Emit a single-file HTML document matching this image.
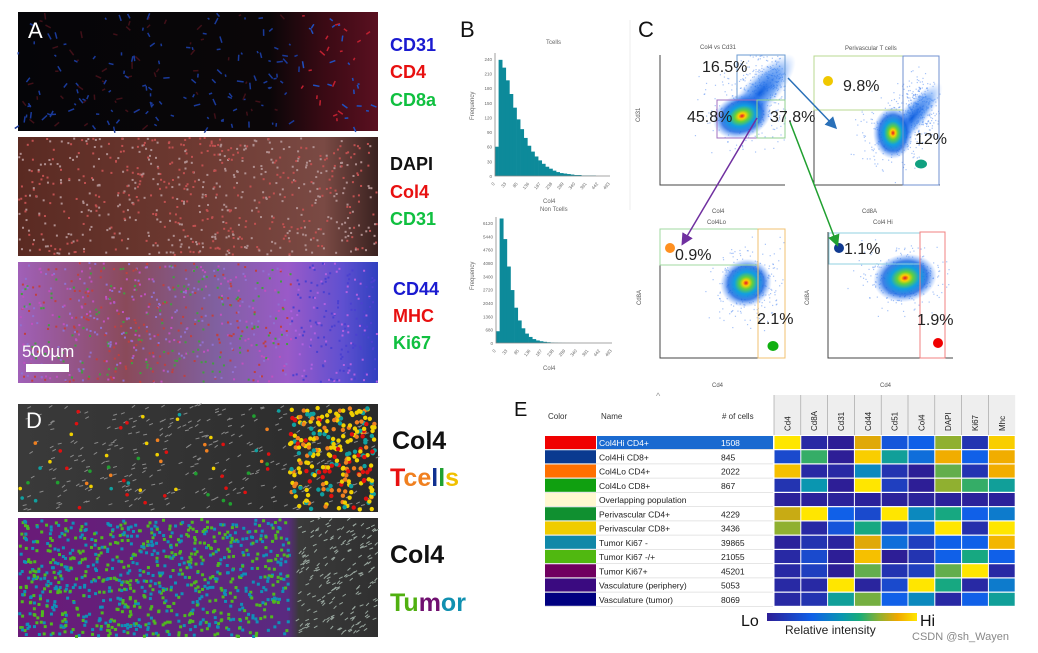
<!DOCTYPE html>
<html><head><meta charset="utf-8">
<style>
html,body{margin:0;padding:0;background:#fff;}
svg{display:block;font-family:"Liberation Sans",sans-serif;}
</style></head>
<body>
<svg id="fig" width="1038" height="653" viewBox="0 0 1038 653">
<defs>
  <linearGradient id="gA1" x1="0" x2="1"><stop offset="0" stop-color="#050508"/><stop offset="0.7" stop-color="#0a0608"/><stop offset="0.85" stop-color="#3a0a14"/><stop offset="1" stop-color="#5a1020"/></linearGradient>
  <linearGradient id="gA2" x1="0" x2="1"><stop offset="0" stop-color="#5a2a22"/><stop offset="0.5" stop-color="#6e3a32"/><stop offset="0.85" stop-color="#7a4a44"/><stop offset="1" stop-color="#3a2220"/></linearGradient>
  <linearGradient id="gA3" x1="0" x2="1"><stop offset="0" stop-color="#a060b8"/><stop offset="0.3" stop-color="#8a4a5a"/><stop offset="0.55" stop-color="#8060a0"/><stop offset="0.75" stop-color="#9a5ac8"/><stop offset="0.9" stop-color="#6050d0"/><stop offset="1" stop-color="#3040c0"/></linearGradient>
  <linearGradient id="gD1" x1="0" x2="1"><stop offset="0" stop-color="#3a3a3a"/><stop offset="1" stop-color="#2a2a2a"/></linearGradient>
  <linearGradient id="gD2" x1="0" x2="1"><stop offset="0" stop-color="#6a1a78"/><stop offset="0.75" stop-color="#5a2a80"/><stop offset="0.78" stop-color="#3a3a3a"/><stop offset="1" stop-color="#303030"/></linearGradient>
  <linearGradient id="gbar" x1="0" x2="1"><stop offset="0" stop-color="#2d1e96"/><stop offset="0.3" stop-color="#1060e8"/><stop offset="0.5" stop-color="#0a96b0"/><stop offset="0.62" stop-color="#1aac78"/><stop offset="0.75" stop-color="#90b030"/><stop offset="0.87" stop-color="#f0a800"/><stop offset="1" stop-color="#ffe600"/></linearGradient>
  <radialGradient id="dens"><stop offset="0" stop-color="#e0102a"/><stop offset="0.12" stop-color="#ffd000"/><stop offset="0.25" stop-color="#60d040"/><stop offset="0.45" stop-color="#10a0e0"/><stop offset="0.7" stop-color="#1060e0" stop-opacity="0.8"/><stop offset="1" stop-color="#5090ff" stop-opacity="0"/></radialGradient>
  <radialGradient id="halo"><stop offset="0" stop-color="#1060e0"/><stop offset="0.6" stop-color="#2a7af0" stop-opacity="0.6"/><stop offset="1" stop-color="#80b0ff" stop-opacity="0"/></radialGradient>
  <marker id="ab" markerWidth="8" markerHeight="8" refX="6" refY="4" orient="auto"><path d="M0,0 L8,4 L0,8 z" fill="#2a70b8"/></marker>
  <marker id="ap" markerWidth="8" markerHeight="8" refX="6" refY="4" orient="auto"><path d="M0,0 L8,4 L0,8 z" fill="#7030a0"/></marker>
  <marker id="ag" markerWidth="8" markerHeight="8" refX="6" refY="4" orient="auto"><path d="M0,0 L8,4 L0,8 z" fill="#20a030"/></marker>
</defs>

<g>
  <rect x="18" y="12" width="360" height="119" fill="url(#gA1)"/>
  <rect x="18" y="137" width="360" height="119" fill="url(#gA2)"/>
  <rect x="18" y="262" width="360" height="121" fill="url(#gA3)"/>
  <g id="specks"></g>
  <text x="28" y="38" font-size="22" fill="#fff">A</text>
  <text x="22" y="357" font-size="17" fill="#fff">500µm</text>
  <rect x="26" y="364" width="43" height="8" fill="#fff"/>
  <g font-size="18" font-weight="bold">
    <text x="390" y="51" fill="#1a1ad0">CD31</text>
    <text x="390" y="78" fill="#e81010">CD4</text>
    <text x="390" y="106" fill="#10c040">CD8a</text>
    <text x="390" y="170" fill="#111">DAPI</text>
    <text x="390" y="198" fill="#e81010">Col4</text>
    <text x="390" y="225" fill="#10c040">CD31</text>
    <text x="393" y="295" fill="#1a1ad0">CD44</text>
    <text x="393" y="322" fill="#e81010">MHC</text>
    <text x="393" y="349" fill="#10c040">Ki67</text>
  </g>
</g>

<g>
  <rect x="18" y="404" width="360" height="108" fill="url(#gD1)"/>
  <rect x="18" y="518" width="360" height="119" fill="url(#gD2)"/>
  <g id="dots"></g>
  <text x="26" y="428" font-size="22" fill="#fff">D</text>
  <g font-size="25" font-weight="bold">
    <text x="392" y="449" fill="#111">Col4</text>
    <text x="390" y="486"><tspan fill="#e81010">T</tspan><tspan fill="#f08020">c</tspan><tspan fill="#f08020">e</tspan><tspan fill="#103090">l</tspan><tspan fill="#20a030">l</tspan><tspan fill="#f0c000">s</tspan></text>
    <text x="390" y="563" fill="#111">Col4</text>
    <text x="390" y="611"><tspan fill="#50b010">Tu</tspan><tspan fill="#701070">m</tspan><tspan fill="#1090b0">or</tspan></text>
  </g>
</g>

<g id="panelB">
  <text x="460" y="37" font-size="22" fill="#111">B</text>
  <text x="546" y="44" font-size="6" fill="#666">Tcells</text>
  <text x="540" y="211" font-size="6" fill="#666">Non Tcells</text>
  <text x="543" y="203" font-size="6" fill="#666">Col4</text>
  <text x="543" y="370" font-size="6" fill="#666">Col4</text>
  <text x="474" y="120" font-size="6" fill="#666" transform="rotate(-90 474 120)">Frequency</text>
  <text x="474" y="290" font-size="6" fill="#666" transform="rotate(-90 474 290)">Frequency</text>
</g>

<g id="panelC">
  <text x="638" y="37" font-size="22" fill="#111">C</text>
  <line x1="630" y1="20" x2="630" y2="210" stroke="#eee"/>
  <text x="700" y="49" font-size="6" fill="#555">Col4 vs Cd31</text>
  <text x="845" y="50" font-size="6" fill="#555">Perivascular T cells</text>
  <text x="707" y="224" font-size="6" fill="#555">Col4Lo</text>
  <text x="873" y="224" font-size="6" fill="#555">Col4 Hi</text>
  <text x="712" y="213" font-size="6" fill="#555">Col4</text>
  <text x="862" y="213" font-size="6" fill="#555">Cd8A</text>
  <text x="712" y="387" font-size="6" fill="#555">Cd4</text>
  <text x="880" y="387" font-size="6" fill="#555">Cd4</text>
  <text x="640" y="122" font-size="6" fill="#555" transform="rotate(-90 640 122)">Cd31</text>
  <text x="641" y="305" font-size="6" fill="#555" transform="rotate(-90 641 305)">Cd8A</text>
  <text x="809" y="305" font-size="6" fill="#555" transform="rotate(-90 809 305)">Cd8A</text>
  <g id="plots"></g>
</g>

<g id="panelE">
  <text x="514" y="416" font-size="20" fill="#111">E</text>
  <text x="548" y="419" font-size="8" fill="#333">Color</text>
  <text x="601" y="419" font-size="8" fill="#333">Name</text>
  <text x="656" y="399" font-size="9" fill="#999">^</text>
  <text x="722" y="419" font-size="8" fill="#333">#  of cells</text>
  <g id="table"></g>
  <text x="741" y="626" font-size="16" fill="#111">Lo</text>
  <rect x="767" y="613" width="150" height="8" fill="url(#gbar)"/>
  <text x="920" y="626" font-size="16" fill="#111">Hi</text>
  <text x="785" y="634" font-size="12" fill="#222">Relative intensity</text>
  <text x="912" y="640" font-size="11" fill="#888">CSDN @sh_Wayen</text>
</g>
</svg>

<script>
const hist1Counts = [60,238,222,196,168,140,116,96,78,62,50,40,32,25,19,15,11,8,6,5,4,3,2,2,1,1,1,1,0,0,0,0];
const hist1Ticks = [0,30,60,90,120,150,180,210,240];
const hist2Counts = [600,6350,5300,3900,2700,1800,1150,750,480,310,200,130,90,60,40,25,16,10,6,4,3,2,1,1,0,0,0,0,0,0,0,0];
const hist2Ticks = [0,680,1360,2040,2720,3400,4080,4760,5440,6120];
const histXTicks = ["0","33","85","136","187","238","289","340","391","442","493"];

const markers = ["Cd4","Cd8A","Cd31","Cd44","Cd51","Col4","DAPI","Ki67","Mhc"];
const popNames = ["Col4Hi CD4+","Col4Hi CD8+","Col4Lo CD4+","Col4Lo CD8+","Overlapping population","Perivascular CD4+","Perivascular CD8+","Tumor Ki67 -","Tumor Ki67 -/+","Tumor Ki67+","Vasculature (periphery)","Vasculature (tumor)"];
const popCounts = ["1508","845","2022","867","","4229","3436","39865","21055","45201","5053","8069"];
const popColors = ["#f00000","#0a3a90","#ff7000","#10a010","#fff8d0","#109030","#f0cc00","#1088a8","#50b810","#700060","#3a0a80","#000080"];
const heatRows = [
 [1.0,0.05,0.0,0.85,0.25,0.3,0.75,0.1,0.95],
 [0.2,0.65,0.0,0.95,0.55,0.35,0.88,0.3,0.88],
 [0.92,0.05,0.05,0.45,0.1,0.0,0.7,0.1,0.88],
 [0.1,0.5,0.0,1.0,0.15,0.0,0.75,0.65,0.55],
 [0.02,0.02,0.02,0.02,0.02,0.02,0.02,0.02,0.02],
 [0.82,1.0,0.3,0.2,1.0,0.45,0.6,0.3,0.4],
 [0.75,0.05,0.25,0.6,0.2,0.35,1.0,0.08,1.0],
 [0.02,0.1,0.03,0.85,0.35,0.15,0.3,0.3,0.9],
 [0.05,0.2,0.0,0.92,0.0,0.1,0.3,0.6,0.3],
 [0.05,0.15,0.0,0.7,0.1,0.15,0.7,1.0,0.05],
 [0.05,0.05,1.0,0.03,0.2,1.0,0.6,0.05,0.4],
 [0.05,0.1,0.55,0.72,0.3,0.45,0.05,0.3,0.55]
];

const gateLabels = ["16.5%","45.8%","37.8%","9.8%","12%","0.9%","2.1%","1.1%","1.9%"];

const NS = "http://www.w3.org/2000/svg";
function mk(tag, attrs, parent){const e=document.createElementNS(NS,tag);for(const k in attrs)e.setAttribute(k,attrs[k]);parent.appendChild(e);return e;}

const stops=[[0,[45,30,150]],[0.3,[16,96,232]],[0.5,[10,150,176]],[0.62,[26,172,120]],[0.75,[144,176,48]],[0.87,[240,168,0]],[1,[255,230,0]]];
function cmap(v){v=Math.max(0,Math.min(1,v));for(let i=1;i<stops.length;i++){if(v<=stops[i][0]){const a=stops[i-1],b=stops[i];const t=(v-a[0])/(b[0]-a[0]);const c=a[1].map((x,j)=>Math.round(x+(b[1][j]-x)*t));return `rgb(${c[0]},${c[1]},${c[2]})`;}}return "rgb(255,230,0)";}

function drawHist(g, counts, ticks, x0, x1, y0, y1, name){
  const ymax = ticks[ticks.length-1]*1.05;
  const ys = v => y1 - v/ymax*(y1-y0);
  const bw = (x1-x0)/counts.length;
  counts.forEach((c,i)=>{
    const r=mk('rect',{x:x0+i*bw,y:ys(c),width:bw+0.3,height:y1-ys(c),fill:'#0d8a9a'},g);
    
    
  });
  const ax=mk('path',{d:`M${x0},${y0} V${y1} H${x1}`,stroke:'#888','stroke-width':0.8,fill:'none'},g);
  
  
  ticks.forEach(t=>{
    const tx=mk('text',{x:x0-3,y:ys(t)+2,'font-size':4.5,fill:'#666','text-anchor':'end'},g);
    tx.textContent=t;
    
    
  });
  histXTicks.forEach((t,i)=>{
    const x=x0+i*(x1-x0)/(histXTicks.length-1);
    const tx=mk('text',{x:x,y:y1+8,'font-size':4.5,fill:'#666',transform:`rotate(-50 ${x} ${y1+8})`,'text-anchor':'end'},g);
    tx.textContent=t;
    
    
  });
}
const gB=document.getElementById('panelB');
drawHist(gB,hist1Counts,hist1Ticks,495,610,53,176,'hist-tcells');
drawHist(gB,hist2Counts,hist2Ticks,496,612,217,343,'hist-nontcells');

let seed=7; function rnd(){seed=(seed*16807)%2147483647;return seed/2147483647;}
function gauss(){return (rnd()+rnd()+rnd()+rnd()-2)/0.58;}

const gP=document.getElementById('plots');
const plotBoxes=[[660,55,785,185],[814,56,940,185],[660,230,785,358],[828,232,953,358]];
plotBoxes.forEach((b,i)=>{
  const p=mk('path',{d:`M${b[0]},${b[1]} V${b[3]} H${b[2]}`,stroke:'#444','stroke-width':1,fill:'none'},gP);
  
  
});
// light event speckle clouds
const clouds=[[752,105,22,20,plotBoxes[0]],[770,80,14,14,plotBoxes[0]],[895,130,18,20,plotBoxes[1]],[920,105,10,14,plotBoxes[1]],[748,285,18,18,plotBoxes[2]],[905,278,22,16,plotBoxes[3]]];
clouds.forEach(c=>{
  for(let i=0;i<260;i++){
    const x=c[0]+gauss()*c[2],y=c[1]+gauss()*c[3];
    if(x<c[4][0]||x>c[4][2]||y<c[4][1]||y>c[4][3])continue;
    mk('rect',{x:x,y:y,width:1.2,height:1.2,fill:'#3a7af0','fill-opacity':0.45},gP);
  }
});
function blob(cx,cy,rx,ry,rot,fill,name){
  const e=mk('ellipse',{cx:cx,cy:cy,rx:rx,ry:ry,fill:fill,transform:`rotate(${rot} ${cx} ${cy})`},gP);
  
  
}
blob(760,93,50,17,-48,'url(#halo)','density-plot1-tail');
blob(742,116,30,22,-20,'url(#dens)','density-plot1-core');
blob(912,118,45,13,-50,'url(#halo)','density-plot2-tail');
blob(893,133,20,26,0,'url(#dens)','density-plot2-core');
blob(746,283,26,24,-20,'url(#dens)','density-plot3-core');
blob(905,278,32,24,-10,'url(#dens)','density-plot4-core');
const gates=[[737,55,48,45,'#6a9ad0'],[717,100,40,38,'#a070c0'],[757,100,28,38,'#90d090'],
 [814,56,89,54,'#b8d890'],[903,56,36,129,'#7090d0'],
 [660,229,98,36,'#a0d8a0'],[758,229,27,129,'#f0c070'],
 [829,233,91,31,'#90d0e0'],[920,232,25,126,'#f08080']];
gates.forEach(g=>{
  const r=mk('rect',{x:g[0],y:g[1],width:g[2],height:g[3],fill:'none',stroke:g[4],'stroke-width':1},gP);
  
  
});
const labPos=[[702,72],[687,122],[770,122],[843,91],[915,144],[675,260],[757,324],[844,254],[917,325]];
gateLabels.forEach((t,i)=>{
  const tx=mk('text',{x:labPos[i][0],y:labPos[i][1],'font-size':16,fill:'#222'},gP);
  tx.textContent=t;
  
  
});
const dotsC=[[828,81,5,5,'#f0c800'],[921,164,6,4.5,'#10a080'],[670,248,5,5,'#ff9020'],[773,346,5.5,5,'#10b010'],[839,248,5,5,'#103a90'],[938,343,5,5,'#f00000']];
dotsC.forEach(d=>{
  const e=mk('ellipse',{cx:d[0],cy:d[1],rx:d[2],ry:d[3],fill:d[4]},gP);
  
  
});
[[788,78,835,127,'#2a70b8','ab'],[757,118,683,243,'#7030a0','ap'],[790,122,837,244,'#20a030','ag']].forEach(a=>{
  const l=mk('line',{x1:a[0],y1:a[1],x2:a[2],y2:a[3],stroke:a[4],'stroke-width':1.5,'marker-end':`url(#${a[5]})`},gP);
  
  
});

const gT=document.getElementById('table');
const rowY0=436, rowH=14.25, hx0=774, cw=26.8;
mk('rect',{x:hx0,y:395,width:cw*markers.length,height:40,fill:'#eee'},gT);
markers.forEach((m,j)=>{
  const x=hx0+j*cw;
  mk('line',{x1:x,y1:395,x2:x,y2:435,stroke:'#999','stroke-width':0.6},gT);
  const tx=mk('text',{x:x+cw/2+3,y:431,'font-size':8,fill:'#222',transform:`rotate(-90 ${x+cw/2+3} 431)`},gT);
  tx.textContent=m;
  
  
});
popNames.forEach((n,i)=>{
  const y=rowY0+i*rowH;
  const c=mk('rect',{x:545,y:y,width:51,height:rowH-1.2,fill:popColors[i]},gT);
  
  
  if(i===0){
    const s=mk('rect',{x:597,y:y,width:176,height:rowH-1.2,fill:'#1a6ad0'},gT);
    
    
  }
  mk('line',{x1:545,y1:y+rowH-0.6,x2:773,y2:y+rowH-0.6,stroke:'#ddd','stroke-width':0.8},gT);
  const t1=mk('text',{x:599,y:y+10,'font-size':8.5,fill:i===0?'#fff':'#222'},gT);
  t1.textContent=n;
  
  
  const t2=mk('text',{x:721,y:y+10,'font-size':8.5,fill:i===0?'#fff':'#222'},gT);
  t2.textContent=popCounts[i];
  
  
  heatRows[i].forEach((v,j)=>{
    const r=mk('rect',{x:hx0+j*cw+0.5,y:y,width:cw-1,height:rowH-1.2,fill:cmap(v)},gT);
    
    
  });
});

const gS=document.getElementById('specks');
for(let i=0;i<220;i++){const x=18+rnd()*355,y=12+rnd()*116;const near=x>300;mk('rect',{x:x,y:y,width:2+rnd()*5,height:1.5,fill:near?(rnd()<0.5?'#c02030':'#2050c0'):(rnd()<0.7?'#1a3a9a':'#401018'),transform:`rotate(${rnd()*180} ${x} ${y})`},gS);}
for(let i=0;i<700;i++){const x=18+rnd()*358,y=137+rnd()*117;mk('rect',{x:x,y:y,width:2,height:2,fill:rnd()<0.5?'#c05050':'#b09090'},gS);}
for(let i=0;i<800;i++){const x=18+rnd()*358,y=262+rnd()*119;const c=x>290?(rnd()<0.6?'#4a40d0':'#b060e0'):['#c050c0','#c04040','#40a040','#9070d0'][Math.floor(rnd()*4)];mk('rect',{x:x,y:y,width:2,height:2,fill:c},gS);}
const gD=document.getElementById('dots');
for(let i=0;i<300;i++){const x=18+rnd()*358,y=404+rnd()*106;mk('rect',{x:x,y:y,width:4,height:1,fill:'#8a8a8a',transform:`rotate(${-40+rnd()*30} ${x} ${y})`},gD);}
for(let i=0;i<260;i++){const x=290+rnd()*85,y=408+rnd()*102;mk('circle',{cx:x,cy:y,r:2.2,fill:['#f0d000','#f0d000','#f0d000','#e01010','#f08020','#10a0a0'][Math.floor(rnd()*6)]},gD);}
for(let i=0;i<60;i++){const x=20+rnd()*270,y=408+rnd()*100;mk('circle',{cx:x,cy:y,r:1.8,fill:['#f0d000','#e01010','#f08020','#10a0a0','#20a030'][Math.floor(rnd()*5)]},gD);}
for(let i=0;i<900;i++){const x=18+rnd()*270,y=518+rnd()*117;mk('rect',{x:x,y:y,width:3,height:3,fill:rnd()<0.5?'#50b820':'#1090b8'},gD);}
for(let i=0;i<200;i++){const x=295+rnd()*80,y=518+rnd()*117;mk('rect',{x:x,y:y,width:4,height:1,fill:'#9aa8a0',transform:`rotate(${-50+rnd()*30} ${x} ${y})`},gD);}
</script>
</body></html>
